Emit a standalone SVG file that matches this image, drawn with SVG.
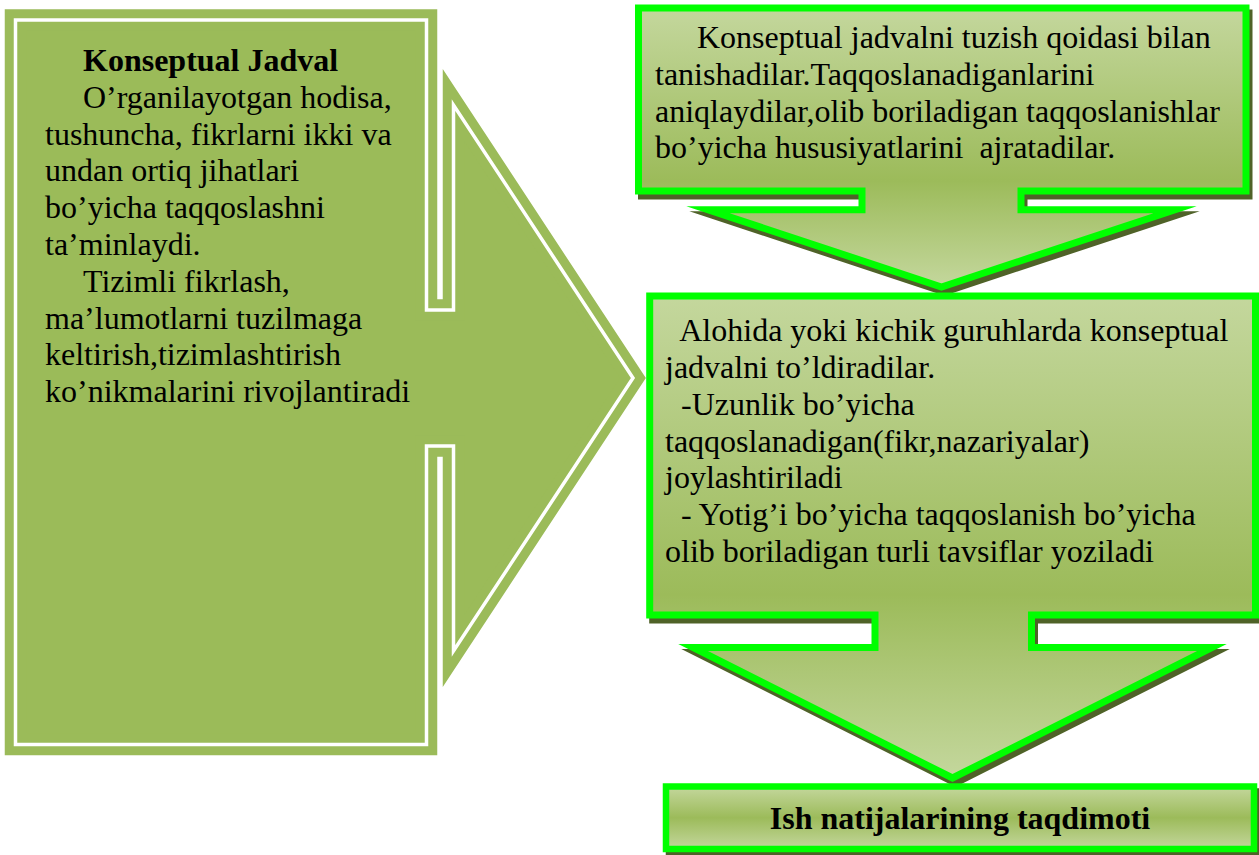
<svg xmlns="http://www.w3.org/2000/svg" width="1259" height="855" viewBox="0 0 1259 855">
<defs>
<linearGradient id="gCall" x1="0" y1="0" x2="0" y2="1">
<stop offset="0" stop-color="#C4D79D"/>
<stop offset="0.62" stop-color="#9CBB5A"/>
<stop offset="1" stop-color="#C4D79D"/>
</linearGradient>
<linearGradient id="gBox" x1="0" y1="0" x2="0" y2="1">
<stop offset="0" stop-color="#C4D79D"/>
<stop offset="0.5" stop-color="#9CBB5A"/>
<stop offset="1" stop-color="#C4D79D"/>
</linearGradient>
<style>
text{font-family:"Liberation Serif","Times New Roman",serif;font-size:32px;fill:#000;white-space:pre}
.b{font-weight:bold}
.lo{fill:#9BBB59;stroke:#9BBB59;stroke-width:21.5;stroke-linejoin:miter;stroke-miterlimit:10}
.li{fill:none;stroke:#FFFFFF;stroke-width:3.5;stroke-linejoin:miter;stroke-miterlimit:10}
.sh{fill:#4F6228;stroke:#4F6228;stroke-width:7;stroke-linejoin:miter;stroke-miterlimit:10}
.co{fill:url(#gCall);stroke:#00FF00;stroke-width:7;stroke-linejoin:miter;stroke-miterlimit:10}
.bx{fill:url(#gBox);stroke:#00FF00;stroke-width:6.5}
</style>
</defs>
<rect width="1259" height="855" fill="#FFFFFF"/>

<g id="node-konseptual-jadval">
<path class="lo" d="M15.5,20 H426.5 V310 H453.5 V105 L633,378 L453.5,651 V446 H426.5 V744.5 H15.5 Z"/>
<path class="li" d="M15.5,20 H426.5 V310 H453.5 V105 L633,378 L453.5,651 V446 H426.5 V744.5 H15.5 Z"/>
<text class="b" x="83" y="71">Konseptual Jadval</text>
<text x="83" y="108">O’rganilayotgan hodisa,</text>
<text x="45" y="145">tushuncha, fikrlarni ikki va</text>
<text x="45" y="181">undan ortiq jihatlari</text>
<text x="45" y="218">bo’yicha taqqoslashni</text>
<text x="45" y="255">ta’minlaydi.</text>
<text x="83" y="292">Tizimli fikrlash,</text>
<text x="45" y="329">ma’lumotlarni tuzilmaga</text>
<text x="45" y="365">keltirish,tizimlashtirish</text>
<text x="45" y="402">ko’nikmalarini rivojlantiradi</text>
</g>

<g id="node-step1">
<path class="sh" transform="translate(3,5)" d="M638.5,8 H1246 V191 H1021 V209.7 H1175 L941.5,287 L708,209.7 H862 V191 H638.5 Z"/>
<path class="co" d="M638.5,8 H1246 V191 H1021 V209.7 H1175 L941.5,287 L708,209.7 H862 V191 H638.5 Z"/>
<text x="697" y="48">Konseptual jadvalni tuzish qoidasi bilan</text>
<text x="655" y="85">tanishadilar.Taqqoslanadiganlarini</text>
<text x="655" y="122">aniqlaydilar,olib boriladigan taqqoslanishlar</text>
<text x="655" y="158">bo’yicha hususiyatlarini  ajratadilar.</text>
</g>

<g id="node-step2">
<path class="sh" transform="translate(3,5)" d="M649.7,296 H1255.5 V615 H1031.5 V647.5 H1212 L952.5,778 L693,647.5 H875 V615 H649.7 Z"/>
<path class="co" d="M649.7,296 H1255.5 V615 H1031.5 V647.5 H1212 L952.5,778 L693,647.5 H875 V615 H649.7 Z"/>
<text x="665" y="341">  Alohida yoki kichik guruhlarda konseptual</text>
<text x="665" y="378">jadvalni to’ldiradilar.</text>
<text x="665" y="415">  -Uzunlik bo’yicha</text>
<text x="665" y="452">taqqoslanadigan(fikr,nazariyalar)</text>
<text x="665" y="488">joylashtiriladi</text>
<text x="665" y="525">  - Yotig’i bo’yicha taqqoslanish bo’yicha</text>
<text x="665" y="562">olib boriladigan turli tavsiflar yoziladi</text>
</g>

<g id="node-result">
<rect class="sh" transform="translate(3,5)" x="666" y="786.5" width="588" height="62.5" style="stroke-width:6.5"/>
<rect class="bx" x="666" y="786.5" width="588" height="62.5"/>
<text class="b" x="960" y="829" text-anchor="middle">Ish natijalarining taqdimoti</text>
</g>
</svg>
